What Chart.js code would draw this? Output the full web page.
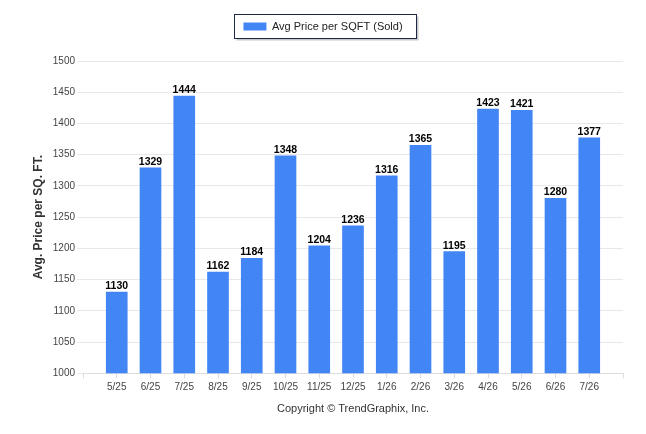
<!DOCTYPE html>
<html>
<head>
<meta charset="utf-8">
<script src="https://cdn.jsdelivr.net/npm/chart.js@4"></script>
<style>
  html, body { margin: 0; padding: 0; background: #fff; }
  #wrap { width: 646px; height: 434px; }
</style>
</head>
<body>
<div id="wrap"><canvas id="barChart" width="646" height="434"></canvas></div>
<script>
const months = ['5/25', '6/25', '7/25', '8/25', '9/25', '10/25', '11/25', '12/25',
                '1/26', '2/26', '3/26', '4/26', '5/26', '6/26', '7/26'];
const avgPrice = [1130, 1329, 1444, 1162, 1184, 1348, 1204, 1236,
                  1316, 1365, 1195, 1423, 1421, 1280, 1377];
const yTicks = [1000, 1050, 1100, 1150, 1200, 1250, 1300, 1350, 1400, 1450, 1500];

// frame + shadow behind the legend item
const legendFrame = {
    id: 'legendFrame',
    beforeDraw(chart) {
        const hit = chart.legend && chart.legend.legendHitBoxes && chart.legend.legendHitBoxes[0];
        if (!hit) return;
        const ctx = chart.ctx;
        const x = Math.round(hit.left - 9) + 0.5;
        const y = Math.round(hit.top - 7) + 0.5;
        const w = Math.round(hit.width + 23);
        const h = Math.round(hit.height + 13);
        ctx.save();
        ctx.fillStyle = '#c8c8c8';
        ctx.fillRect(x + 2, y + 2, w, h);
        ctx.fillStyle = '#ffffff';
        ctx.fillRect(x, y, w, h);
        ctx.strokeStyle = '#1c2a48';
        ctx.lineWidth = 1;
        ctx.strokeRect(x, y, w, h);
        ctx.restore();
    }
};

// value labels above each bar
const barValues = {
    id: 'barValues',
    afterDatasetsDraw(chart) {
        const ctx = chart.ctx;
        const meta = chart.getDatasetMeta(0);
        ctx.save();
        ctx.font = 'bold 10.5px "Liberation Sans", Arial, sans-serif';
        ctx.fillStyle = '#000';
        ctx.textAlign = 'center';
        ctx.textBaseline = 'alphabetic';
        meta.data.forEach((bar, i) => {
            ctx.fillText(avgPrice[i], bar.x, bar.y - 3);
        });
        ctx.restore();
    }
};

const ctx = document.getElementById('barChart').getContext('2d');
new Chart(ctx, {
    type: 'bar',
    data: {
        datasets: [{
            label: 'Avg Price per SQFT (Sold)',
            data: avgPrice.map((v, i) => ({ x: i, y: v })),
            backgroundColor: '#4285f4',
            borderWidth: 0,
            barThickness: 21
        }]
    },
    options: {
        responsive: false,
        animation: false,
        layout: { padding: { top: 2, left: 23, right: 23, bottom: 18 } },
        plugins: {
            legend: {
                weight: 3000,
                labels: {
                    boxWidth: 23,
                    boxHeight: 8,
                    padding: 19,
                    color: '#222',
                    font: { family: '"Liberation Sans", Arial, sans-serif', size: 11 }
                }
            },
            // empty spacer between legend and plot
            subtitle: {
                display: true,
                text: '',
                weight: 500,
                padding: 0,
                font: { size: 10, lineHeight: 1.9 }
            },
            tooltip: { enabled: false }
        },
        scales: {
            x: {
                type: 'linear',
                min: -1,
                max: months.length,
                offset: false,
                grid: { display: true, offset: false, drawOnChartArea: false, tickLength: 5, color: '#dcdcdc' },
                border: { display: true, color: '#dcdcdc' },
                ticks: {
                    stepSize: 1,
                    autoSkip: false,
                    maxRotation: 0,
                    padding: 3,
                    color: '#444',
                    font: { family: '"Liberation Sans", Arial, sans-serif', size: 10 },
                    callback: (v) => months[v] || ''
                },
                title: {
                    display: true,
                    text: 'Copyright © TrendGraphix, Inc.',
                    color: '#333',
                    padding: { top: 6.5, bottom: 0 },
                    font: { family: '"Liberation Sans", Arial, sans-serif', size: 11 }
                }
            },
            y: {
                min: yTicks[0],
                max: yTicks[yTicks.length - 1],
                afterFit: (scale) => { scale.width = 60; },
                afterBuildTicks: (scale) => { scale.ticks = yTicks.map(v => ({ value: v })); },
                grid: { color: '#e8e8e8', tickLength: 6 },
                border: { display: false },
                ticks: {
                    padding: 2,
                    color: '#444',
                    font: { family: '"Liberation Sans", Arial, sans-serif', size: 10 },
                    callback: (v) => String(v)
                },
                title: {
                    display: true,
                    text: 'Avg. Price per SQ. FT.',
                    color: '#333',
                    padding: { top: 8, bottom: 0 },
                    font: { family: '"Liberation Sans", Arial, sans-serif', size: 12, weight: 'bold' }
                }
            }
        }
    },
    plugins: [legendFrame, barValues]
});
</script>
</body>
</html>
